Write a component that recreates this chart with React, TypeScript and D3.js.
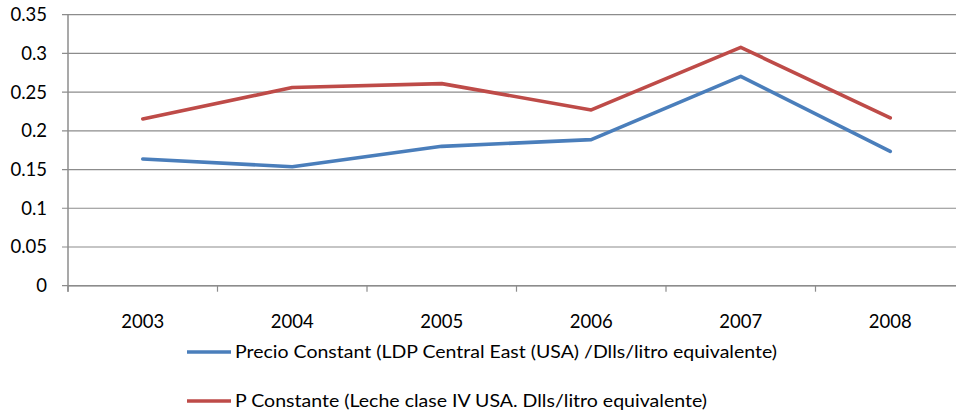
import React from "react";
import * as d3 from "d3";

const years = ["2003", "2004", "2005", "2006", "2007", "2008"];
const precioLDP = [0.1636, 0.1537, 0.18, 0.1886, 0.2703, 0.1735];
const lecheIV = [0.2153, 0.256, 0.261, 0.227, 0.3078, 0.2166];
const yTicks = [0, 0.05, 0.1, 0.15, 0.2, 0.25, 0.3, 0.35];
const seriesNames = [
  "Precio Constant (LDP Central East (USA) /Dlls/litro equivalente)",
  "P Constante  (Leche clase IV USA. Dlls/litro equivalente)",
];
const seriesColors = ["#4A7EBB", "#BE4B48"];

const W = 956;
const H = 415;
const left = 68;
const right = 965;
const top = 14.7;
const bottom = 285.7;
const font = "Lato, 'Open Sans', sans-serif";

export default function App() {
  const x = d3.scaleBand<string>().domain(years).range([left, right]);
  const y = d3.scaleLinear().domain([0, 0.35]).range([bottom, top]);
  const line = d3
    .line<number>()
    .x((_, i) => (x(years[i]) as number) + x.bandwidth() / 2)
    .y((d) => y(d));
  const series = [precioLDP, lecheIV];
  const boundaries = years.map((yr) => x(yr) as number).concat([right]);
  const legendWidths = [542, 472];

  return (
    <svg
      width={W}
      height={H}
      style={{ position: "absolute", left: 0, top: 0, background: "#fff" }}
    >
      {yTicks.map((t) => (
        <g key={t}>
          <line x1={62} x2={W} y1={y(t)} y2={y(t)} stroke="#8c8c8c" strokeWidth={1.2} />
          <text
            x={47}
            y={y(t)}
            dy="0.35em"
            textAnchor="end"
            fontFamily={font}
            fontSize={18.5}
            fill="#000"
          >
            {String(t)}
          </text>
        </g>
      ))}
      <line x1={left} x2={left} y1={top} y2={bottom + 6} stroke="#8c8c8c" strokeWidth={1.5} />
      <line x1={left} x2={W} y1={bottom} y2={bottom} stroke="#8c8c8c" strokeWidth={1.5} />
      {boundaries.map((b, i) => (
        <line key={i} x1={b} x2={b} y1={bottom} y2={bottom + 6} stroke="#8c8c8c" strokeWidth={1.2} />
      ))}
      {years.map((yr) => (
        <text
          key={yr}
          x={(x(yr) as number) + x.bandwidth() / 2}
          y={321.5}
          dy="0.35em"
          textAnchor="middle"
          fontFamily={font}
          fontSize={18.5}
          fill="#000"
        >
          {yr}
        </text>
      ))}
      {series.map((s, i) => (
        <path
          key={i}
          d={line(s) as string}
          fill="none"
          stroke={seriesColors[i]}
          strokeWidth={3.6}
          strokeLinejoin="round"
          strokeLinecap="round"
        />
      ))}
      {seriesNames.map((n, i) => {
        const ly = 352 + i * 49;
        return (
          <g key={n}>
            <line x1={187} x2={231} y1={ly} y2={ly} stroke={seriesColors[i]} strokeWidth={3.5} />
            <text
              x={235}
              y={ly}
              dy="0.35em"
              fontFamily={font}
              fontSize={18}
              textLength={legendWidths[i]}
              lengthAdjust="spacingAndGlyphs"
              fill="#000"
            >
              {n}
            </text>
          </g>
        );
      })}
    </svg>
  );
}
